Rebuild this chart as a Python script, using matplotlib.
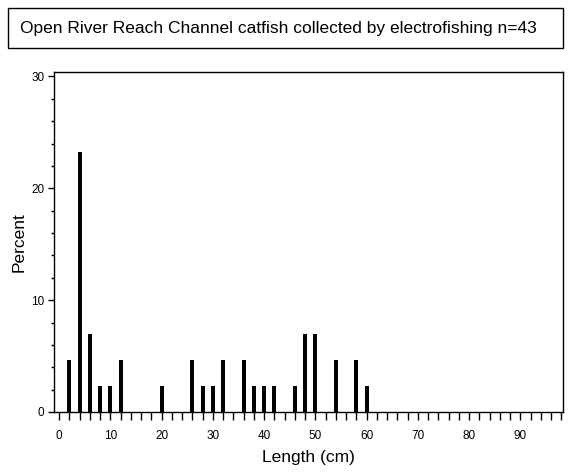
import matplotlib.pyplot as plt
from matplotlib.patches import Rectangle
from matplotlib.ticker import MultipleLocator

plt.rcParams['font.family'] = ['Liberation Sans', 'DejaVu Sans']

# length class midpoints (cm) and percent of fish
length = [2, 4, 6, 8, 10, 12, 20, 26, 28, 30, 32, 36, 38, 40, 42, 46, 48, 50, 54, 58, 60]
percent = [4.65, 23.26, 6.98, 2.33, 2.33, 4.65, 2.33, 4.65, 2.33, 2.33, 4.65,
           4.65, 2.33, 2.33, 2.33, 2.33, 6.98, 6.98, 4.65, 4.65, 2.33]
title = "Open River Reach Channel catfish collected by electrofishing n=43"

fig = plt.figure(figsize=(5.7, 4.75), dpi=100)
ax = fig.add_axes([54/570, 63/475, 509/570, 340/475])

ax.bar(length, percent, width=0.8, color='black')

ax.set_xlim(-1, 98.3)
ax.set_ylim(0, 30.4)
ax.xaxis.set_minor_locator(MultipleLocator(2))
ax.yaxis.set_major_locator(MultipleLocator(10))
ax.yaxis.set_minor_locator(MultipleLocator(2))
ax.set_xticks([0, 10, 20, 30, 40, 50, 60, 70, 80, 90])
ax.tick_params(which='major', length=6, width=1, labelsize=8.5, pad=7)
ax.tick_params(which='minor', length=6, width=1)
ax.tick_params(axis='y', which='major', length=4, pad=3)
ax.tick_params(axis='y', which='minor', length=2)
for s in ax.spines.values():
    s.set_linewidth(1)

ax.set_xlabel("Length (cm)", fontsize=12.5, labelpad=6)
ax.set_ylabel("Percent", fontsize=12.5, labelpad=3)

# title box
fig.patches.append(Rectangle((8/570, 1 - 48/475), 555/570, 40/475,
                             transform=fig.transFigure, fill=False,
                             edgecolor='black', linewidth=1))
fig.text(278/570, 1 - 28/475, title, ha='center', va='center', fontsize=12.5)

fig.savefig("out.png", dpi=100)
